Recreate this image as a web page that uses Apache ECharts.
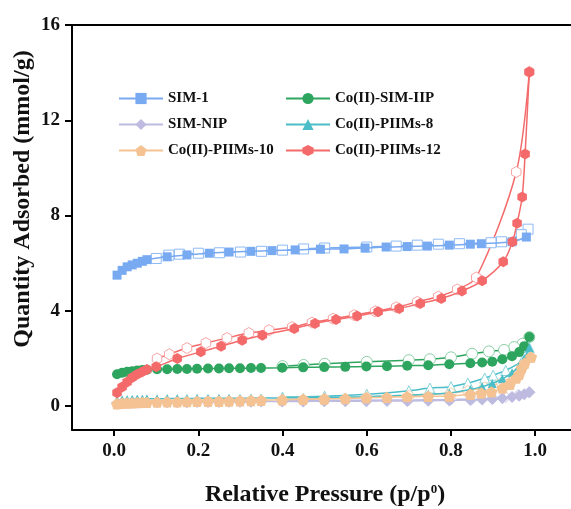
<!DOCTYPE html>
<html><head><meta charset="utf-8">
<script src="https://cdn.jsdelivr.net/npm/echarts@6/dist/echarts.min.js"></script>
<style>html,body{margin:0;padding:0;background:#fff}#c{width:571px;height:509px}</style>
</head><body><div id="c"></div>
<script>
// ---------- data ----------
const xTicks = [0, 0.2, 0.4, 0.6, 0.8, 1.0];
const yTicks = [0, 4, 8, 12, 16];

const sim1AdsX = [0.007,0.019,0.031,0.043,0.055,0.067,0.078,0.126,0.173,0.226,0.273,0.325,0.375,0.43,0.49,0.546,0.596,0.646,0.696,0.744,0.796,0.846,0.872,0.945,0.979];
const sim1AdsY = [5.5,5.7,5.85,5.93,6.0,6.08,6.15,6.27,6.35,6.42,6.47,6.5,6.53,6.56,6.59,6.6,6.64,6.68,6.7,6.72,6.76,6.8,6.82,6.9,7.1];
const sim1DesX = [0.983,0.967,0.92,0.895,0.82,0.77,0.72,0.67,0.6,0.5,0.45,0.4,0.35,0.3,0.25,0.2,0.155,0.13,0.1];
const sim1DesY = [7.43,7.2,6.9,6.86,6.82,6.8,6.76,6.72,6.68,6.64,6.6,6.55,6.5,6.47,6.44,6.42,6.38,6.34,6.2];

const denseX = [0.007,0.019,0.031,0.043,0.055,0.067,0.078,0.102,0.126,0.15,0.173,0.197,0.223,0.249,0.273,0.299,0.325,0.349,0.399,0.449,0.499,0.549,0.599,0.648,0.696,0.746,0.796,0.846,0.874,0.898,0.922,0.945,0.962,0.974,0.986];

const iipAdsY = [1.34,1.4,1.44,1.47,1.5,1.52,1.53,1.55,1.55,1.56,1.56,1.57,1.58,1.58,1.59,1.59,1.6,1.6,1.61,1.63,1.64,1.65,1.67,1.68,1.7,1.72,1.76,1.8,1.83,1.87,1.97,2.1,2.27,2.52,2.9];
const iipDesX = [0.986,0.97,0.95,0.926,0.89,0.85,0.8,0.75,0.7,0.6,0.5,0.45,0.4];
const iipDesY = [2.9,2.62,2.48,2.36,2.3,2.2,2.05,1.97,1.93,1.86,1.78,1.73,1.68];

const nipAdsY = [0.1,0.12,0.13,0.14,0.14,0.15,0.15,0.16,0.16,0.17,0.17,0.18,0.18,0.18,0.19,0.19,0.19,0.2,0.2,0.2,0.21,0.21,0.21,0.22,0.22,0.23,0.24,0.26,0.28,0.3,0.33,0.38,0.44,0.5,0.58];
const nipDesX = [0.986,0.96,0.93,0.9,0.85,0.8,0.7,0.6,0.5,0.4];
const nipDesY = [0.58,0.48,0.38,0.33,0.3,0.28,0.26,0.25,0.24,0.23];

const p8AdsY = [0.25,0.27,0.28,0.29,0.3,0.3,0.31,0.31,0.32,0.32,0.32,0.33,0.33,0.33,0.33,0.33,0.34,0.34,0.35,0.36,0.37,0.38,0.4,0.43,0.46,0.5,0.55,0.7,0.82,0.95,1.15,1.4,1.7,2.0,2.45];
const p8DesX = [0.986,0.97,0.93,0.9,0.88,0.84,0.8,0.75,0.7,0.6,0.5,0.4];
const p8DesY = [2.45,1.93,1.5,1.3,1.18,0.97,0.82,0.76,0.65,0.5,0.42,0.38];

const p10AdsX = [0.007,0.019,0.031,0.043,0.055,0.067,0.078,0.102,0.126,0.15,0.173,0.197,0.223,0.249,0.273,0.299,0.325,0.349,0.399,0.449,0.499,0.549,0.599,0.648,0.696,0.746,0.796,0.846,0.872,0.896,0.922,0.94,0.955,0.962,0.968,0.975,0.99];
const p10AdsY = [0.1,0.12,0.13,0.14,0.15,0.16,0.16,0.17,0.18,0.18,0.19,0.2,0.21,0.21,0.22,0.23,0.24,0.25,0.27,0.29,0.3,0.32,0.35,0.37,0.4,0.41,0.42,0.5,0.55,0.6,0.76,0.92,1.18,1.34,1.6,1.8,2.06];
const p10DesX = [0.99,0.97,0.95,0.92,0.88,0.84,0.8,0.7,0.6,0.5,0.4];
const p10DesY = [2.06,1.7,1.3,1.0,0.8,0.65,0.55,0.45,0.38,0.32,0.28];

const p12AdsX = [0.007,0.019,0.031,0.043,0.055,0.067,0.078,0.1,0.15,0.206,0.254,0.304,0.352,0.428,0.477,0.527,0.577,0.627,0.677,0.727,0.777,0.826,0.874,0.924,0.946,0.957,0.969,0.976,0.986];
const p12AdsY = [0.56,0.81,1.02,1.2,1.34,1.44,1.54,1.65,2.0,2.28,2.52,2.77,2.98,3.26,3.47,3.64,3.78,3.96,4.1,4.31,4.52,4.83,5.26,6.06,6.9,7.68,8.78,10.58,14.03];
const p12DesX = [0.986,0.955,0.86,0.815,0.77,0.72,0.67,0.62,0.57,0.52,0.47,0.423,0.368,0.32,0.268,0.218,0.173,0.131,0.102];
const p12DesY = [14.03,9.83,5.4,4.9,4.6,4.38,4.15,3.98,3.82,3.67,3.51,3.32,3.19,3.07,2.86,2.65,2.44,2.18,2.0];

// ---------- build ----------
const zip = (xs, ys) => xs.map((x, i) => [x, ys[i]]);
const PENT = 'path://M0,-1 L0.951,-0.309 L0.588,0.809 L-0.588,0.809 L-0.951,-0.309 Z';
const HEX = 'path://M0,-1 L0.866,-0.5 L0.866,0.5 L0,1 L-0.866,0.5 L-0.866,-0.5 Z';

function ads(name, data, color, symbol, size) {
  return { name, type: 'line', data, smooth: 0.3, symbol, symbolSize: size, symbolKeepAspect: true,
    showAllSymbol: true, lineStyle: { color, width: 1.5 }, itemStyle: { color, borderWidth: 0 }, z: 3 };
}
function des(name, data, color, border, symbol, size) {
  return { name, type: 'line', data, smooth: 0.3, symbol, symbolSize: size, symbolKeepAspect: true,
    showAllSymbol: true, lineStyle: { color, width: 1.5 },
    itemStyle: { color: '#fff', borderColor: border, borderWidth: 1 }, z: 2 };
}

const C = { blue: '#78aaf2', green: '#2ea55e', lav: '#bdbbe0', teal: '#4bbdc8', peach: '#f5c393', red: '#f46a6a' };

const series = [
  des('SIM-1 d', zip(sim1DesX, sim1DesY), C.blue, '#8fbaf4', 'rect', 10),
  ads('SIM-1', zip(sim1AdsX, sim1AdsY), C.blue, 'rect', 9),
  des('IIP d', zip(iipDesX, iipDesY), C.green, '#8ccfa6', 'circle', 11),
  ads('Co(II)-SIM-IIP', zip(denseX, iipAdsY), C.green, 'circle', 10),
  des('NIP d', zip(nipDesX, nipDesY), C.lav, '#c9c7e6', 'diamond', 11),
  ads('SIM-NIP', zip(denseX, nipAdsY), C.lav, 'diamond', 12),
  des('P8 d', zip(p8DesX, p8DesY), C.teal, '#86d3da', 'triangle', 10),
  ads('Co(II)-PIIMs-8', zip(denseX, p8AdsY), C.teal, 'triangle', 9),
  des('P10 d', zip(p10DesX, p10DesY), C.peach, '#f7d2ad', PENT, 11),
  ads('Co(II)-PIIMs-10', zip(p10AdsX, p10AdsY), C.peach, PENT, 12),
  des('P12 d', zip(p12DesX, p12DesY), C.red, '#f8a5a5', HEX, 11),
  ads('Co(II)-PIIMs-12', zip(p12AdsX, p12AdsY), C.red, HEX, 11)
];

const font = 'Liberation Serif';
const legendText = { fontFamily: font, fontWeight: 'bold', fontSize: 15, color: '#111' };

const option = {
  animation: false,
  backgroundColor: '#fff',
  grid: { left: 72, top: 25, right: 0, bottom: 79 },
  legend: [
    { data: ['SIM-1', 'SIM-NIP', 'Co(II)-PIIMs-10'], orient: 'vertical', left: 113, top: 86,
      itemWidth: 44, itemHeight: 14, itemGap: 11, textStyle: legendText, selectedMode: false },
    { data: ['Co(II)-SIM-IIP', 'Co(II)-PIIMs-8', 'Co(II)-PIIMs-12'], orient: 'vertical', left: 280, top: 86,
      itemWidth: 44, itemHeight: 14, itemGap: 11, textStyle: legendText, selectedMode: false }
  ],
  xAxis: [{
    type: 'value', min: -0.1, max: 1.085,
    axisLine: { show: true, onZero: false, lineStyle: { color: '#000', width: 2 } },
    axisTick: { show: true, customValues: xTicks, length: 6, lineStyle: { color: '#000', width: 2 } },
    axisLabel: { customValues: xTicks, formatter: v => v.toFixed(1), margin: 12,
      fontFamily: font, fontWeight: 'bold', fontSize: 19, color: '#111' },
    splitLine: { show: false }
  }, {
    type: 'value', position: 'top', min: -0.1, max: 1.085,
    axisLine: { show: true, onZero: false, lineStyle: { color: '#000', width: 2 } },
    axisTick: { show: false }, axisLabel: { show: false }, splitLine: { show: false }
  }],
  yAxis: {
    type: 'value', min: -1, max: 16,
    axisLine: { show: true, onZero: false, lineStyle: { color: '#000', width: 2 } },
    axisTick: { show: true, customValues: yTicks, length: 7, lineStyle: { color: '#000', width: 2 } },
    axisLabel: { customValues: yTicks, margin: 12,
      fontFamily: font, fontWeight: 'bold', fontSize: 19, color: '#111' },
    splitLine: { show: false }
  },
  graphic: [
    { type: 'text', x: 325, y: 495,
      style: { text: 'Relative Pressure (p/p{s|0})', fontFamily: font, fontWeight: 'bold', fontSize: 24, fill: '#111',
        align: 'center', verticalAlign: 'middle', rich: { s: { fontSize: 13, fontFamily: font, fontWeight: 'bold', verticalAlign: 'top', padding: [0, 0, 10, 0] } } } },
    { type: 'text', x: 23, y: 199, rotation: Math.PI / 2,
      style: { text: 'Quantity Adsorbed (mmol/g)', fontFamily: font, fontWeight: 'bold', fontSize: 24, fill: '#111',
        align: 'center', verticalAlign: 'middle' } }
  ],
  series
};

const chart = echarts.init(document.getElementById('c'), null, { renderer: 'canvas' });
chart.setOption(option);
</script>
</body></html>
